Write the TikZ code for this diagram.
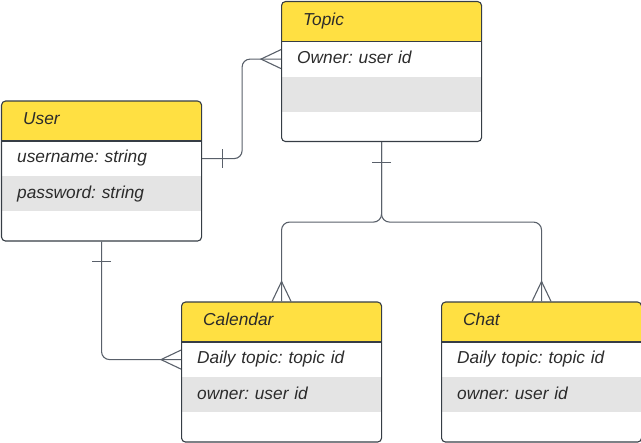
\documentclass[tikz,border=0pt]{standalone}
\usepackage{fontspec}
\setmainfont{Liberation Sans}
\usepackage{tikz}
\usetikzlibrary{
  calc
  , positioning
}
\definecolor{headYellow}{HTML}{FFE042}
\definecolor{rowGray}{HTML}{E4E4E4}
\definecolor{boxLine}{HTML}{363D45}
\definecolor{linkLine}{HTML}{59606A}
\definecolor{labelText}{HTML}{2B2B2B}
\frenchspacing

\begin{document}
\begin{tikzpicture}[x=1pt, y=-1pt
    , font=\fontsize{17.3}{20}\selectfont\itshape
  ]
  \useasboundingbox (0,0) rectangle (641,443);

  \tikzstyle{entity box}=[draw=boxLine, line width=1.1pt, rounded corners=4pt
    , minimum width=200pt, minimum height=140pt, inner sep=0pt, anchor=north west
    , path picture={
        \fill[headYellow, sharp corners] (path picture bounding box.north west) rectangle ++(200,40);
        \fill[rowGray, sharp corners] ($(path picture bounding box.north west)+(0,75)$) rectangle ++(200,35);
        \draw[boxLine, line width=1.1pt] ($(path picture bounding box.north west)+(0,40)$) -- ++(200,0);
      }];
  \tikzstyle{entity text}=[anchor=north west, inner ysep=0pt, align=left, text=labelText
    , text height=1.02em, text depth=0.2em];
  \tikzstyle{entity title}=[entity text, minimum height=40pt, inner xsep=22pt, text width=156pt];
  \tikzstyle{entity row}=[entity text, minimum height=35pt, inner xsep=16pt, text width=168pt];
  \tikzstyle{link}=[draw=linkLine, line width=1.1pt, rounded corners=8pt];
  \tikzstyle{link mark}=[draw=linkLine, line width=1.1pt];

  \newcommand\drawEntity[6]{
    \node[entity box] (#1) at (#2,#3) {};
    \node[entity title] (#1-title) at (#1.north west) {#4};
    \node[entity row] (#1-a) at (#1-title.south west) {#5};
    \node[entity row] (#1-b) at (#1-a.south west) {#6};
  }
  % one: a bar, many: a crow's foot; #2 turns it outward
  \newcommand\oneMark[2]{
    \draw[link mark, shift={(#1)}, rotate=#2] (20,-9.5) -- (20,9.5);
  }
  \newcommand\manyMark[2]{
    \draw[link mark, shift={(#1)}, rotate=#2] (0,-9.5) -- (20,0) -- (0,9.5);
  }

  \drawEntity{topic}{281}{1}{Topic}{Owner: user id}{}
  \drawEntity{user}{1}{100.5}{User}{username: string}{password: string}
  \drawEntity{calendar}{181}{301.5}{Calendar}{Daily topic: topic id}{owner: user id}
  \drawEntity{chat}{441}{301.5}{Chat}{Daily topic: topic id}{owner: user id}

  \draw[link] (user.east |- user-a) -- ++(40,0) |- (topic.west |- topic-a);
  \oneMark{user.east |- user-a}{0}
  \manyMark{topic.west |- topic-a}{180}

  \draw[link] (topic.south) -- ++(0,80) -| (calendar.north);
  \draw[link] (topic.south) -- ++(0,80) -| (chat.north);
  \oneMark{topic.south}{-90}
  \manyMark{calendar.north}{90}
  \manyMark{chat.north}{90}

  \draw[link] (user.south) |- (calendar.west |- calendar-a);
  \oneMark{user.south}{-90}
  \manyMark{calendar.west |- calendar-a}{180}

\end{tikzpicture}
\end{document}
